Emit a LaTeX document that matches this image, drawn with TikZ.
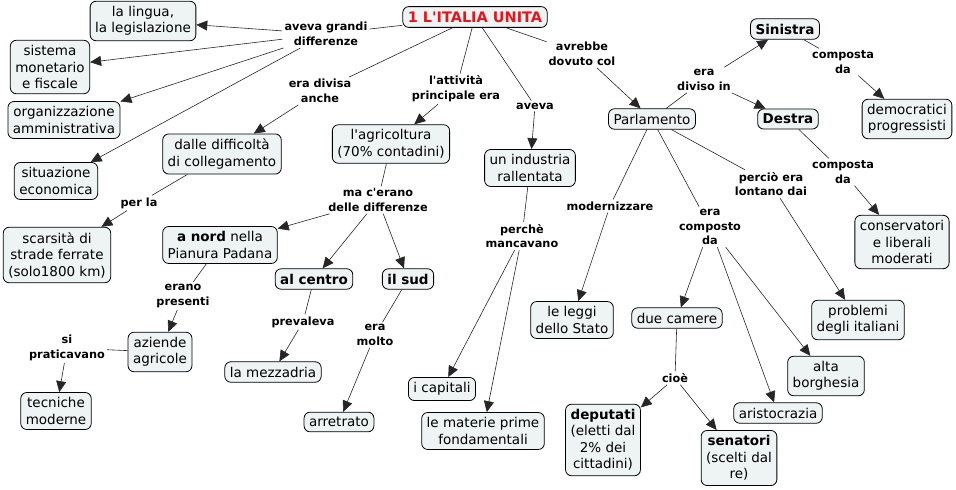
\documentclass[tikz,border=0pt]{standalone}
\usepackage{fontspec}
\setmainfont{DejaVu Sans}[Ligatures=TeXOff]
\usetikzlibrary{arrows.meta}
\definecolor{cfill}{HTML}{EEF3F4}
\definecolor{tred}{HTML}{E8141B}
\begin{document}
\begin{tikzpicture}[x=1pt,y=-1pt,
  concept/.style={draw=black, line width=0.8pt, fill=cfill, rounded corners=6pt, align=center,
    font=\fontsize{13.5}{16.5}\selectfont, inner xsep=5pt, inner ysep=5pt},
  bconcept/.style={concept, font=\fontsize{13.5}{16.5}\selectfont\bfseries},
  lab/.style={align=center, font=\fontsize{11.3}{14.8}\selectfont\bfseries, inner sep=2pt, fill=white},
  ln/.style={draw=black!85, line width=0.6pt},
  ar/.style={ln, -{Triangle[length=11pt,width=10pt]}}
]
\useasboundingbox (0,0) rectangle (956,490);
% concepts
\node[concept, font=\fontsize{14.5}{17}\selectfont\bfseries, text=tred] (title) at (475,17) {1 L'ITALIA UNITA};
\node[concept] (lingua) at (143,21) {la lingua,\\la legislazione};
\node[concept] (sist) at (50,67) {sistema\\monetario\\e fiscale};
\node[concept] (org) at (64,120) {organizzazione\\amministrativa};
\node[concept] (sit) at (56,181) {situazione\\economica};
\node[concept] (diff) at (222,154) {dalle difficoltà\\di collegamento};
\node[concept] (agri) at (391,144) {l'agricoltura\\(70\% contadini)};
\node[concept] (ind) at (530,168) {un industria\\rallentata};
\node[concept] (parl) at (652,119) {Parlamento};
\node[bconcept] (sin) at (785,29) {Sinistra};
\node[bconcept] (des) at (788,119) {Destra};
\node[concept] (demo) at (907,119) {democratici\\progressisti};
\node[concept] (cons) at (902,242) {conservatori\\e liberali\\moderati};
\node[concept] (prob) at (858,320) {problemi\\degli italiani};
\node[concept] (alta) at (826,376) {alta\\borghesia};
\node[concept] (aris) at (778,413) {aristocrazia};
\node[concept] (due) at (677,318) {due camere};
\node[concept] (dep) at (603,440) {\textbf{deputati}\\(eletti dal\\2\% dei\\cittadini)};
\node[concept] (sen) at (739,458) {\textbf{senatori}\\(scelti dal\\re)};
\node[concept] (leggi) at (572,320) {le leggi\\dello Stato};
\node[concept] (cap) at (442,389) {i capitali};
\node[concept] (mat) at (483,431) {le materie prime\\fondamentali};
\node[concept] (scar) at (57,255) {scarsità di\\strade ferrate\\(solo1800 km)};
\node[concept] (nord) at (220,245) {\textbf{a nord} nella\\Pianura Padana};
\node[bconcept] (cen) at (314,279) {al centro};
\node[bconcept] (sud) at (408,279) {il sud};
\node[concept] (az) at (160,352) {aziende\\agricole};
\node[concept] (tec) at (56,411) {tecniche\\moderne};
\node[concept] (mez) at (273,372) {la mezzadria};
\node[concept] (arr) at (339,422) {arretrato};
% labels
\node[lab] (l1) at (326,34) {aveva grandi\\differenze};
\node[lab] (l2) at (320,91) {era divisa\\anche};
\node[lab] (l3) at (456,89) {l'attività\\principale era};
\node[lab] (l4) at (535,106) {aveva};
\node[lab] (l5) at (582,54) {avrebbe\\dovuto col};
\node[lab] (l6) at (704,80) {era\\diviso in};
\node[lab] (l7) at (843,62) {composta\\da};
\node[lab] (l8) at (843,172) {composta\\da};
\node[lab] (l9) at (771,184) {perciò era\\lontano dai};
\node[lab] (l10) at (710,227) {era\\composto\\da};
\node[lab] (l11) at (675,378) {cioè};
\node[lab] (l12) at (610,206) {modernizzare};
\node[lab] (l13) at (522,236) {perchè\\mancavano};
\node[lab] (l14) at (139,203) {per la};
\node[lab] (l15) at (378,200) {ma c'erano\\delle differenze};
\node[lab] (l16) at (183,296) {erano\\presenti};
\node[lab] (l17) at (67,348) {si\\praticavano};
\node[lab] (l18) at (303,322) {prevaleva};
\node[lab] (l19) at (375,335) {era\\molto};
% connectors
\draw[ln] (title) -- (l1);
\draw[ar] (l1) -- (lingua);
\draw[ar] (l1) -- (sist);
\draw[ar] (l1) -- (org);
\draw[ar] (l1) -- (sit);
\draw[ln] (title) -- (l2);
\draw[ar] (l2) -- (diff);
\draw[ln] (title) -- (l3);
\draw[ar] (l3) -- (agri);
\draw[ln] (title) -- (l4);
\draw[ar] (l4) -- (ind);
\draw[ln] (title) -- (l5);
\draw[ar] (l5) -- (parl);
\draw[ln] (parl) -- (l6);
\draw[ar] (l6) -- (sin);
\draw[ar] (l6) -- (des);
\draw[ln] (sin) -- (l7);
\draw[ar] (l7) -- (demo);
\draw[ln] (des) -- (l8);
\draw[ar] (l8) -- (cons);
\draw[ln] (parl) -- (l9);
\draw[ar] (l9) -- (prob);
\draw[ln] (parl) -- (l10);
\draw[ar] (l10) -- (due);
\draw[ar] (l10) -- (aris);
\draw[ar] (l10) -- (alta);
\draw[ln] (due) -- (l11);
\draw[ar] (l11) -- (dep);
\draw[ar] (l11) -- (sen);
\draw[ln] (parl) -- (l12);
\draw[ar] (l12) -- (leggi);
\draw[ln] (ind) -- (l13);
\draw[ar] (l13) -- (cap);
\draw[ar] (l13) -- (mat);
\draw[ln] (diff) -- (l14);
\draw[ar] (l14) -- (scar);
\draw[ln] (agri) -- (l15);
\draw[ar] (l15) -- (nord);
\draw[ar] (l15) -- (cen);
\draw[ar] (l15) -- (sud);
\draw[ln] (nord) -- (l16);
\draw[ar] (l16) -- (az);
\draw[ln] (az) -- (l17);
\draw[ar] (l17) -- (tec);
\draw[ln] (cen) -- (l18);
\draw[ar] (l18) -- (mez);
\draw[ln] (sud) -- (l19);
\draw[ar] (l19) -- (arr);
\end{tikzpicture}
\end{document}
